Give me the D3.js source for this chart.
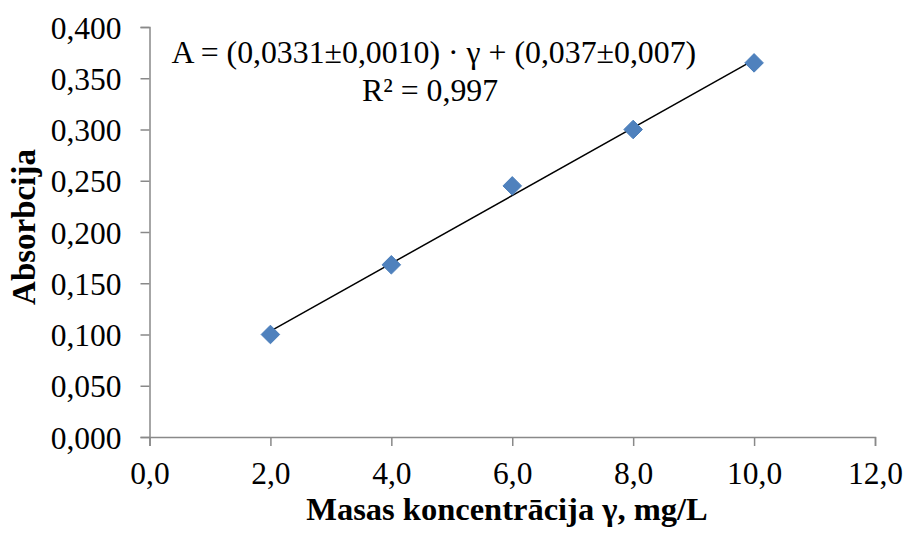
<!DOCTYPE html>
<html><head><meta charset="utf-8">
<script src="https://cdn.jsdelivr.net/npm/d3@7"></script>
<style>body{margin:0;background:#fff}svg{display:block}text{font-family:"Liberation Serif","Times New Roman",serif;fill:#000}</style>
</head><body><svg id="c" width="907" height="538"></svg>
<script>
const xValues = [2, 4, 6, 8, 10];
const yValues = [0.100, 0.168, 0.245, 0.300, 0.365];
const slope = 0.0331, intercept = 0.037;
const xTicks = [0, 2, 4, 6, 8, 10, 12];
const yTicks = [0, 0.05, 0.1, 0.15, 0.2, 0.25, 0.3, 0.35, 0.4];
const xTitle = "Masas koncentrācija γ, mg/L";
const yTitle = "Absorbcija";
const eqLine1 = "A = (0,0331±0,0010) · γ + (0,037±0,007)";
const eqLine2 = "R² = 0,997";

const svg = d3.select("#c");
const L = 149.5, R = 875, T = 27, B = 437;
const x = d3.scaleLinear().domain([0, 12]).range([L, R]);
const y = d3.scaleLinear().domain([0, 0.4]).range([B, T]);
const fmtX = d => d.toFixed(1).replace(".", ",");
const fmtY = d => d.toFixed(3).replace(".", ",");

const xa = svg.append("g").attr("transform", `translate(0,${B})`)
  .call(d3.axisBottom(x).tickValues(xTicks).tickFormat(fmtX).tickSize(9).tickPadding(16));
const ya = svg.append("g").attr("transform", `translate(${L},0)`)
  .call(d3.axisLeft(y).tickValues(yTicks).tickFormat(fmtY).tickSize(9).tickPadding(19));
[xa, ya].forEach(a => {
  a.attr("font-family", null).attr("font-size", null);
  a.selectAll("path,line").attr("stroke", "#898989").attr("stroke-width", 1.5);
  a.selectAll("text").style("font-family", '"Liberation Serif",serif').style("font-size", "31.5px").attr("fill", "#000");
});
xa.selectAll("text").attr("dy", "0.71em");
ya.selectAll("text").attr("dy", "0.35em");

svg.append("line")
  .attr("x1", x(xValues[0])).attr("y1", y(slope * xValues[0] + intercept))
  .attr("x2", x(xValues[xValues.length - 1])).attr("y2", y(slope * xValues[xValues.length - 1] + intercept))
  .attr("stroke", "#000").attr("stroke-width", 1.5);

svg.selectAll("path.pt").data(xValues).enter().append("path").attr("class", "pt")
  .attr("d", d3.symbol().type(d3.symbolDiamond2).size(220))
  .attr("transform", (d, i) => `translate(${x(d)},${y(yValues[i])})`)
  .attr("fill", "#4F81BD").attr("stroke", "#4A7EBB").attr("stroke-width", 1);

svg.append("text").attr("x", 171.5).attr("y", 63).style("font-size", "31.8px").text(eqLine1);
svg.append("text").attr("x", 362).attr("y", 101).style("font-size", "31.8px").text(eqLine2);

svg.append("text").attr("x", 507).attr("y", 520).attr("text-anchor", "middle")
  .style("font-size", "32.5px").style("font-weight", "bold").text(xTitle);
svg.append("text").attr("transform", "translate(35,227) rotate(-90)").attr("text-anchor", "middle")
  .style("font-size", "33px").style("font-weight", "bold").text(yTitle);
</script></body></html>
